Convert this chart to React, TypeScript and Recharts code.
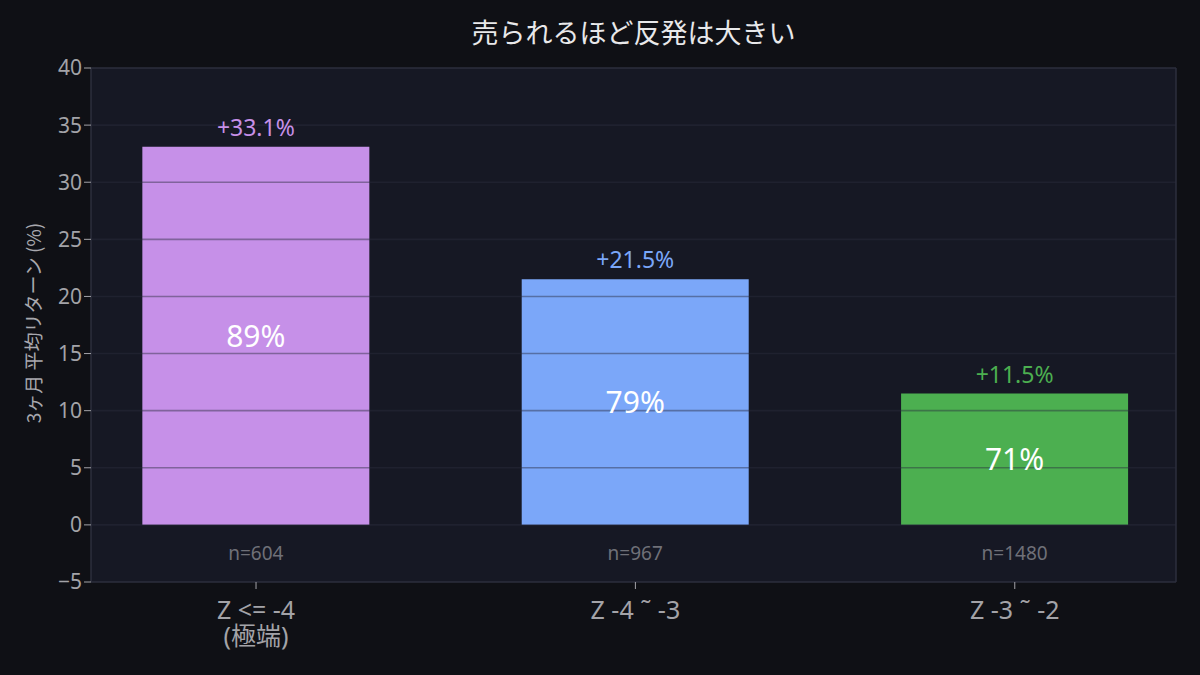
import * as React from "react";
import {
  Bar,
  BarChart,
  CartesianGrid,
  Cell,
  LabelList,
  ReferenceLine,
  XAxis,
  YAxis,
} from "recharts";

const CATEGORIES = [["Z <= -4", "(極端)"], ["Z -4 ˜ -3"], ["Z -3 ˜ -2"]];
const RETURNS = [33.1, 21.5, 11.5];
const WIN_RATES = [89, 79, 71];
const COUNTS = [604, 967, 1480];
const COLORS = ["#c690e8", "#7ba7f9", "#4caf50"];
const Y_TICKS = [-5, 0, 5, 10, 15, 20, 25, 30, 35, 40];

const FONT = "'Noto Sans', 'Noto Sans CJK JP', sans-serif";
const JP_FONT = "'Noto Sans CJK JP', 'Noto Sans', sans-serif";

const data = CATEGORIES.map((_, i) => ({
  x: i,
  ret: RETURNS[i],
  top: `+${RETURNS[i].toFixed(1)}%`,
  win: `${WIN_RATES[i]}%`,
  n: `n=${COUNTS[i]}`,
}));

const TOP_LABELS = data.map((d) => d.top);

function box(props: any) {
  const vb = props.viewBox ?? props;
  return { x: Number(vb.x), y: Number(vb.y), width: Number(vb.width), height: Number(vb.height) };
}

function TopLabel(props: any) {
  const { x, y, width } = box(props);
  const i = TOP_LABELS.indexOf(props.value);
  return (
    <text x={x + width / 2} y={y - 11} textAnchor="middle" fill={COLORS[i]} fontSize={23} fontFamily={FONT}>
      {props.value}
    </text>
  );
}

function WinLabel(props: any) {
  const { x, y, width, height } = box(props);
  return (
    <text x={x + width / 2} y={y + height / 2} dy="0.36em" textAnchor="middle" fill="#ffffff" fontSize={30} fontFamily={FONT}>
      {props.value}
    </text>
  );
}

function CountLabel(props: any) {
  const { x, y, width, height } = box(props);
  return (
    <text x={x + width / 2} y={y + height + 35} textAnchor="middle" fill="#6f7078" fontSize={19} fontFamily={FONT}>
      {props.value}
    </text>
  );
}

function XTick(props: any) {
  const { x, y, payload } = props;
  const lines = CATEGORIES[payload.value] ?? [];
  return (
    <text x={x} y={y + 28} textAnchor="middle" fill="#a3a3a8" fontSize={25} fontFamily={FONT}>
      {lines.map((l, k) => (
        <tspan key={k} x={x} dy={k === 0 ? 0 : 26}>
          {l}
        </tspan>
      ))}
    </text>
  );
}

export default function App() {
  return (
    <div
      style={{
        position: "fixed",
        left: 0,
        top: 0,
        width: 1200,
        height: 675,
        background: "#0f1015",
      }}
    >
      <div
        style={{
          position: "absolute",
          top: 13,
          left: 91,
          width: 1085,
          textAlign: "center",
          lineHeight: "38px",
          fontSize: 27,
          fontFamily: JP_FONT,
          color: "#e8e8ea",
        }}
      >
        売られるほど反発は大きい
      </div>
      <BarChart width={1200} height={675} data={data} margin={{ top: 68, right: 24, bottom: 0, left: 0 }}>
        <CartesianGrid fill="#161824" horizontal={false} vertical={false} />
        <XAxis
          dataKey="x"
          type="number"
          domain={[-0.435, 2.425]}
          ticks={[0, 1, 2]}
          allowDataOverflow
          height={93}
          axisLine={{ stroke: "#2c2e3c", strokeWidth: 1.5 }}
          tickLine={{ stroke: "#a3a3a8" }}
          tickSize={7}
          tick={<XTick />}
        />
        <YAxis
          type="number"
          domain={[-5, 40]}
          ticks={Y_TICKS}
          allowDataOverflow
          width={91}
          axisLine={{ stroke: "#2c2e3c", strokeWidth: 1.5 }}
          tickLine={{ stroke: "#a3a3a8" }}
          tickSize={7}
          tick={{ fill: "#a3a3a8", fontSize: 21, fontFamily: FONT }}
          tickFormatter={(v: number) => (v < 0 ? `\u2212${Math.abs(v)}` : `${v}`)}
          label={{
            content: () => (
              <text
                x={32}
                y={323}
                transform="rotate(-90 32 323)"
                textAnchor="middle"
                dominantBaseline="central"
                fill="#a8a8ae"
                fontSize={19}
                fontFamily={JP_FONT}
              >
                3ヶ月 平均リターン (%)
              </text>
            ),
          }}
        />
        <Bar dataKey="ret" barSize={227} isAnimationActive={false}>
          {data.map((_, i) => (
            <Cell key={i} fill={COLORS[i]} />
          ))}
          <LabelList dataKey="top" content={<TopLabel />} />
          <LabelList dataKey="win" content={<WinLabel />} />
          <LabelList dataKey="n" content={<CountLabel />} />
        </Bar>
        {Y_TICKS.filter((t) => t > -5 && t < 40).map((t) => (
          <ReferenceLine key={t} y={t} stroke="#2a2d3e" strokeOpacity={0.45} strokeWidth={1.6} />
        ))}
        <ReferenceLine y={40} stroke="#2c2e3c" strokeWidth={1.5} />
        <ReferenceLine x={2.425} stroke="#2c2e3c" strokeWidth={1.5} />
      </BarChart>
    </div>
  );
}
